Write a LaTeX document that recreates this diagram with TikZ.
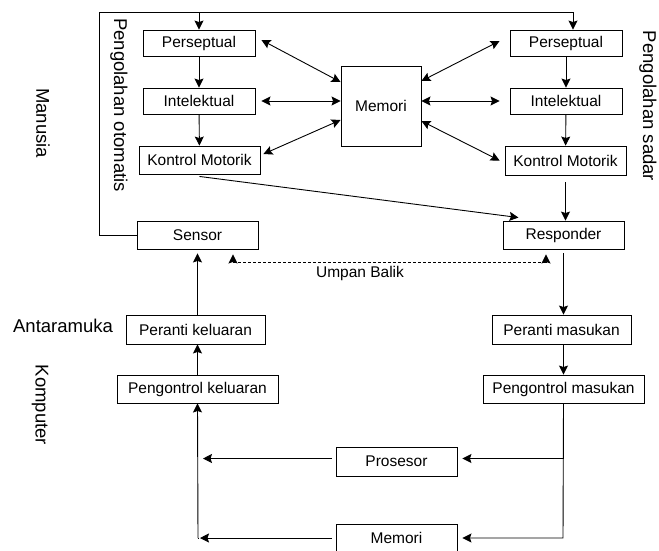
\documentclass[tikz,border=0pt]{standalone}
\usepackage{fontspec}
\setmainfont{Liberation Sans}
\usetikzlibrary{arrows.meta}
\begin{document}
\begin{tikzpicture}[x=1pt,y=-1pt,
 box/.style={draw, line width=0.9pt, inner sep=0pt, font=\fontsize{15.5}{18}\selectfont},
 lab/.style={font=\fontsize{18.5}{22}\selectfont, inner sep=0pt},
 arr/.style={line width=0.9pt, -{Stealth[length=9pt,width=9pt,inset=1.5pt]}},
 darr/.style={line width=0.9pt, {Stealth[length=9pt,width=9pt,inset=1.5pt]}-{Stealth[length=9pt,width=9pt,inset=1.5pt]}},
 ln/.style={line width=0.9pt}]
\useasboundingbox (0,0) rectangle (659,550);
\clip (0,0) rectangle (659,550);
% human side boxes
\node[box, minimum width=112pt, minimum height=26pt] (pL) at (199,43) {Perseptual};
\node[box, minimum width=112pt, minimum height=26pt] (iL) at (199,101) {Intelektual};
\node[box, minimum width=121pt, minimum height=28pt] (kL) at (199.5,160) {Kontrol Motorik};
\node[box, minimum width=112pt, minimum height=26pt] (pR) at (566,43) {Perseptual};
\node[box, minimum width=112pt, minimum height=26pt] (iR) at (566,101) {Intelektual};
\node[box, minimum width=121pt, minimum height=29pt] (kR) at (565.5,160.5) {Kontrol Motorik};
\node[box, minimum width=80pt, minimum height=80pt] (mem) at (381,106) {Memori};
\node[box, minimum width=121pt, minimum height=28pt] (sensor) at (197.5,235) {Sensor};
\node[box, minimum width=121pt, minimum height=28pt] (resp) at (563.5,235) {Responder};
% interface / computer
\node[box, minimum width=139pt, minimum height=29pt] (perK) at (195.5,329.5) {Peranti keluaran};
\node[box, minimum width=139pt, minimum height=29pt] (perM) at (561.5,329.5) {Peranti masukan};
\node[box, minimum width=161pt, minimum height=28pt] (pkK) at (197.5,389) {Pengontrol keluaran};
\node[box, minimum width=161pt, minimum height=28pt] (pkM) at (563.5,389) {Pengontrol masukan};
\node[box, minimum width=121pt, minimum height=29pt] (pros) at (396.5,461.5) {Prosesor};
\node[box, minimum width=121pt, minimum height=28pt] (mem2) at (396.5,538) {Memori};
% labels
\node[lab, rotate=-90] (lpo) at (119,105) {Pengolahan otomatis};
\node[lab, rotate=-90] (lps) at (648,106) {Pengolahan sadar};
\node[lab, rotate=-90] (lman) at (43,123) {Manusia};
\node[lab, rotate=-90] (lkom) at (40,405) {Komputer};
\node[lab] (lant) at (63,326) {Antaramuka};
\node[inner sep=0pt, font=\fontsize{15.5}{18}\selectfont] (lub) at (360,273) {Umpan Balik};
% top loop
\coordinate (c1) at (99,12);
\coordinate (c2) at (573,12);
\draw[arr] (sensor.west) -| (c1) -- (c2) -- (c2 |- pR.north);
\draw[arr] (pL.north |- c1) -- (pL.north);
% vertical chains
\draw[arr] (pL) -- (iL);
\draw[arr] (iL) -- (kL);
\draw[arr] (pR) -- (iR);
\draw[arr] (iR) -- (kR);
\draw[arr] ([yshift=-7pt]kR.south) -- (kR.south |- resp.north);
\draw[arr] ([yshift=-2pt]kL.south) -- ([xshift=-45pt,yshift=3pt]resp.north);
% memory links
\draw[darr] ([xshift=6pt,yshift=3pt]pL.east) -- ([yshift=24pt]mem.west);
\draw[darr] ([xshift=6pt]iL.east) -- (mem.west |- iL.east);
\draw[darr] ([xshift=3pt,yshift=6pt]kL.east) -- ([yshift=-14pt]mem.west);
\draw[darr] ([yshift=25pt]mem.east) -- ([xshift=-10pt,yshift=2pt]pR.west);
\draw[darr] (mem.east |- iR.west) -- ([xshift=-10pt]iR.west);
\draw[darr] ([yshift=-15pt]mem.east) -- ([xshift=-5pt]kR.west);
% feedback
\coordinate (fbL) at ([xshift=35.5pt,yshift=-13pt]sensor.south);
\coordinate (fbR) at ([xshift=-17.5pt,yshift=-13pt]resp.south);
\draw[line width=0.9pt, densely dashed] (fbL) -- (fbR);
\draw[arr] (fbL) -- ++(0,-8);
\draw[arr] (fbR) -- ++(0,-8);
% interface chain
\draw[arr] (perK.north -| sensor.south) -- ([yshift=-4pt]sensor.south);
\draw[arr] (pkK.north) -- (pkK.north |- perK.south);
\draw[arr] ([yshift=-4pt]resp.south) -- (resp.south |- perM.north);
\draw[arr] (perM.south -| pkM.south) -- (pkM.north);
% computer internals
\coordinate (rb) at (563,538);
\coordinate (lb) at (198,538);
\draw[arr] (pkM.south) -- (rb) -- ([xshift=5pt]mem2.east);
\draw[arr] ([yshift=3pt]pros.east -| rb) -- ([xshift=5pt,yshift=3pt]pros.east);
\draw[arr] ([xshift=-4pt,yshift=3pt]pros.west) -- ([xshift=5pt,yshift=3pt]pros.west -| lb);
\draw[arr] ([xshift=-4pt]mem2.west) -- ([xshift=2pt]lb);
\draw[ln] (lb) -- (pkK.south |- lb);
\draw[arr] (lb) -- (pkK.south);
\end{tikzpicture}
\end{document}
